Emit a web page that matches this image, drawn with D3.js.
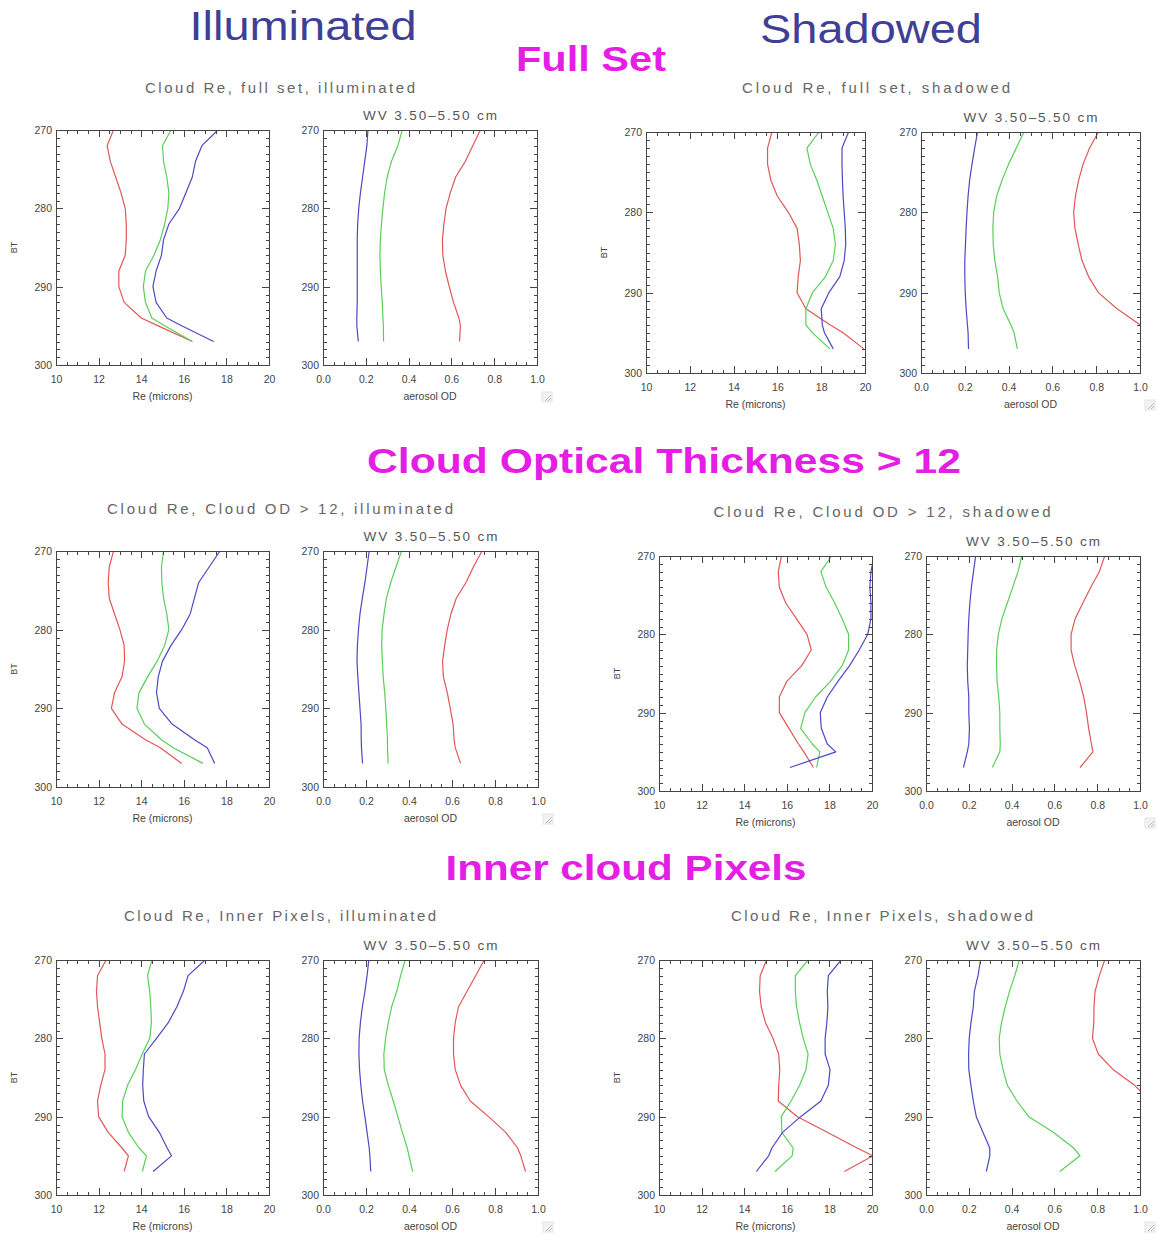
<!DOCTYPE html>
<html>
<head>
<meta charset="utf-8">
<script src="https://cdn.jsdelivr.net/npm/d3@7"></script>
<style>
  body { margin: 0; background: #fff; }
  svg text { font-family: "Liberation Sans", Arial, sans-serif; }
</style>
</head>
<body>
<svg id="fig" width="1158" height="1235"></svg>
<script>
// Brightness-temperature levels (K) shared by every profile
const btLevels = [270, 272, 274, 276, 278, 280, 282, 284, 286, 288, 290, 292, 294, 295, 297];

const reTicks  = [10, 12, 14, 16, 18, 20];
const aodTicks = [0.0, 0.2, 0.4, 0.6, 0.8, 1.0];
const btTicks  = [270, 280, 290, 300];

// ---- Full set ----
const reFullIllumRed    = [12.7, 12.4, 12.55, 12.8, 13.05, 13.25, 13.3, 13.3, 13.25, 12.95, 12.95, 13.2, 14.0, 14.8, 16.4];
const reFullIllumGreen  = [15.4, 15.0, 15.05, 15.2, 15.3, 15.25, 15.1, 14.9, 14.6, 14.2, 14.1, 14.2, 14.5, 15.1, 16.4];
const reFullIllumBlue   = [17.6, 16.85, 16.55, 16.4, 16.1, 15.8, 15.3, 15.05, 14.95, 14.7, 14.55, 14.7, 15.2, 15.9, 17.4];

const aodFullIllumRed   = [0.735, 0.70, 0.665, 0.62, 0.595, 0.575, 0.565, 0.558, 0.56, 0.572, 0.59, 0.61, 0.635, 0.642, 0.638];
const aodFullIllumGreen = [0.37, 0.35, 0.32, 0.30, 0.288, 0.28, 0.273, 0.268, 0.266, 0.268, 0.272, 0.277, 0.28, 0.282, 0.283];
const aodFullIllumBlue  = [0.21, 0.205, 0.195, 0.185, 0.175, 0.167, 0.162, 0.16, 0.16, 0.16, 0.16, 0.16, 0.158, 0.158, 0.165];

const reFullShadRed     = [15.75, 15.55, 15.55, 15.7, 16.0, 16.5, 16.9, 17.0, 17.05, 16.95, 16.9, 17.3, 18.4, 19.0, 19.95];
const reFullShadGreen   = [17.9, 17.35, 17.5, 17.8, 18.05, 18.3, 18.55, 18.65, 18.55, 18.2, 17.6, 17.3, 17.3, 17.6, 18.4];
const reFullShadBlue    = [19.25, 18.95, 18.95, 18.97, 19.0, 19.05, 19.1, 19.12, 19.05, 18.85, 18.35, 18.0, 18.05, 18.15, 18.55];

const aodFullShadRed    = [0.81, 0.77, 0.74, 0.72, 0.705, 0.697, 0.703, 0.718, 0.735, 0.765, 0.81, 0.895, 1.0, null, null];
const aodFullShadGreen  = [0.47, 0.435, 0.40, 0.37, 0.345, 0.332, 0.328, 0.33, 0.337, 0.35, 0.357, 0.375, 0.41, 0.425, 0.44];
const aodFullShadBlue   = [0.258, 0.245, 0.233, 0.222, 0.215, 0.21, 0.206, 0.203, 0.2, 0.2, 0.202, 0.206, 0.212, 0.215, 0.217];

// ---- Cloud optical thickness > 12 ----
const reOdIllumRed      = [12.7, 12.5, 12.45, 12.5, 12.75, 13.0, 13.2, 13.22, 13.1, 12.75, 12.6, 13.1, 14.2, 14.9, 15.9];
const reOdIllumGreen    = [15.05, 14.95, 14.97, 15.05, 15.2, 15.3, 15.1, 14.75, 14.3, 13.9, 13.8, 14.15, 14.95, 15.5, 16.9];
const reOdIllumBlue     = [17.7, 17.2, 16.7, 16.5, 16.3, 15.9, 15.4, 15.0, 14.8, 14.72, 14.85, 15.45, 16.5, 17.1, 17.45];

const aodOdIllumRed     = [0.74, 0.70, 0.665, 0.62, 0.595, 0.578, 0.566, 0.556, 0.56, 0.578, 0.592, 0.605, 0.61, 0.615, 0.64];
const aodOdIllumGreen   = [0.365, 0.34, 0.315, 0.295, 0.284, 0.275, 0.273, 0.276, 0.28, 0.287, 0.292, 0.296, 0.3, 0.3, 0.303];
const aodOdIllumBlue    = [0.215, 0.205, 0.195, 0.183, 0.172, 0.165, 0.16, 0.158, 0.162, 0.167, 0.172, 0.177, 0.178, 0.179, 0.184];

const reOdShadRed       = [15.75, 15.6, 15.65, 15.95, 16.45, 16.95, 17.15, 16.7, 16.0, 15.65, 15.65, 16.1, 16.55, 16.8, 17.25];
const reOdShadGreen     = [18.1, 17.6, 17.85, 18.25, 18.6, 18.9, 18.9, 18.6, 18.05, 17.35, 16.85, 16.65, 17.2, 17.55, 17.4];
const reOdShadBlue      = [20.1, 19.95, 19.9, 19.95, 19.95, 19.8, 19.4, 18.95, 18.4, 17.9, 17.57, 17.62, 17.9, 18.3, 16.15];

const aodOdShadRed      = [0.835, 0.81, 0.77, 0.733, 0.697, 0.678, 0.678, 0.695, 0.718, 0.737, 0.75, 0.76, 0.773, 0.78, 0.72];
const aodOdShadGreen    = [0.448, 0.43, 0.405, 0.38, 0.355, 0.338, 0.33, 0.33, 0.332, 0.34, 0.345, 0.345, 0.347, 0.345, 0.31];
const aodOdShadBlue     = [0.232, 0.222, 0.212, 0.205, 0.2, 0.197, 0.195, 0.193, 0.195, 0.2, 0.2, 0.203, 0.2, 0.193, 0.175];

// ---- Inner cloud pixels ----
const reInnerIllumRed   = [12.35, 11.95, 11.9, 11.95, 12.05, 12.15, 12.3, 12.3, 12.1, 11.95, 12.0, 12.45, 13.1, 13.4, 13.2];
const reInnerIllumGreen = [14.5, 14.3, 14.4, 14.45, 14.48, 14.4, 14.05, 13.73, 13.36, 13.13, 13.1, 13.4, 13.9, 14.25, 14.05];
const reInnerIllumBlue  = [17.0, 16.2, 15.98, 15.67, 15.27, 14.72, 14.15, 14.1, 14.07, 14.12, 14.35, 14.85, 15.22, 15.42, 14.56];

const aodInnerIllumRed   = [0.75, 0.71, 0.67, 0.63, 0.615, 0.607, 0.607, 0.615, 0.64, 0.685, 0.77, 0.85, 0.905, 0.92, 0.942];
const aodInnerIllumGreen = [0.382, 0.361, 0.343, 0.319, 0.304, 0.291, 0.283, 0.285, 0.304, 0.327, 0.348, 0.369, 0.392, 0.40, 0.417];
const aodInnerIllumBlue  = [0.213, 0.205, 0.195, 0.183, 0.174, 0.168, 0.167, 0.17, 0.176, 0.184, 0.195, 0.205, 0.215, 0.218, 0.222];

const reInnerShadRed    = [15.05, 14.75, 14.72, 14.8, 15.0, 15.35, 15.62, 15.67, 15.62, 15.6, 16.5, 17.9, 19.3, 20.05, 18.7];
const reInnerShadGreen  = [17.0, 16.4, 16.4, 16.46, 16.6, 16.77, 17.0, 16.9, 16.6, 16.2, 15.74, 15.77, 16.3, 16.25, 15.45];
const reInnerShadBlue   = [18.55, 17.95, 17.9, 17.93, 17.88, 17.8, 17.8, 18.03, 17.95, 17.6, 16.65, 15.8, 15.3, 15.15, 14.57];

const aodInnerShadRed   = [0.835, 0.81, 0.79, 0.785, 0.784, 0.778, 0.805, 0.875, 0.975, 1.05, null, null, null, null, null];
const aodInnerShadGreen = [0.436, 0.415, 0.39, 0.37, 0.353, 0.342, 0.345, 0.36, 0.38, 0.425, 0.48, 0.595, 0.69, 0.72, 0.625];
const aodInnerShadBlue  = [0.255, 0.243, 0.226, 0.221, 0.21, 0.202, 0.199, 0.2, 0.21, 0.221, 0.235, 0.266, 0.298, 0.298, 0.282];

// Headings
const columnTitles = ["Illuminated", "Shadowed"];
const sectionTitles = ["Full Set", "Cloud Optical Thickness > 12", "Inner cloud Pixels"];
const plotTitles = [
  "Cloud Re, full set, illuminated", "Cloud Re, full set, shadowed",
  "Cloud Re, Cloud OD > 12, illuminated", "Cloud Re, Cloud OD > 12, shadowed",
  "Cloud Re, Inner Pixels, illuminated", "Cloud Re, Inner Pixels, shadowed"
];
const wvTitle = "WV 3.50\u20135.50 cm";

// ---------------------------------------------------------------------------
const svg = d3.select("#fig");
const lineColors = ["#e35656", "#58d058", "#4a4ac4"];
const axisGrey = "#444";

// Panel boxes: [left, right, top, bottom]
const panels = [
  { kind: "re",  box: [56, 269, 130, 365],   series: [reFullIllumRed, reFullIllumGreen, reFullIllumBlue] },
  { kind: "aod", box: [323, 537, 130, 365],  series: [aodFullIllumRed, aodFullIllumGreen, aodFullIllumBlue] },
  { kind: "re",  box: [646, 865, 132, 373],  series: [reFullShadRed, reFullShadGreen, reFullShadBlue] },
  { kind: "aod", box: [921, 1140, 132, 373], series: [aodFullShadRed, aodFullShadGreen, aodFullShadBlue] },
  { kind: "re",  box: [56, 269, 551, 787],   series: [reOdIllumRed, reOdIllumGreen, reOdIllumBlue] },
  { kind: "aod", box: [323, 538, 551, 787],  series: [aodOdIllumRed, aodOdIllumGreen, aodOdIllumBlue] },
  { kind: "re",  box: [659, 872, 556, 791],  series: [reOdShadRed, reOdShadGreen, reOdShadBlue] },
  { kind: "aod", box: [926, 1140, 556, 791], series: [aodOdShadRed, aodOdShadGreen, aodOdShadBlue] },
  { kind: "re",  box: [56, 269, 960, 1195],  series: [reInnerIllumRed, reInnerIllumGreen, reInnerIllumBlue] },
  { kind: "aod", box: [323, 538, 960, 1195], series: [aodInnerIllumRed, aodInnerIllumGreen, aodInnerIllumBlue] },
  { kind: "re",  box: [659, 872, 960, 1195], series: [reInnerShadRed, reInnerShadGreen, reInnerShadBlue] },
  { kind: "aod", box: [926, 1140, 960, 1195], series: [aodInnerShadRed, aodInnerShadGreen, aodInnerShadBlue] }
];

const defs = svg.append("defs");

function styleAxis(sel) {
  sel.select(".domain").remove();
  sel.selectAll(".tick line").attr("stroke", axisGrey).attr("stroke-width", 1).attr("shape-rendering", "crispEdges");
  sel.selectAll(".tick text")
    .attr("fill", "#444").attr("font-size", 10.5)
    .attr("font-family", "'Liberation Sans', Arial, sans-serif");
}

function addAxis(g, gen, transform, values, size, fmt, pad) {
  const a = gen.tickValues(values).tickSizeInner(size).tickSizeOuter(0);
  if (fmt) a.tickFormat(fmt).tickPadding(pad); else a.tickFormat("");
  const s = g.append("g").attr("transform", transform).call(a);
  styleAxis(s);
  return s;
}

panels.forEach((p, idx) => {
  const [x0, x1, y0, y1] = p.box;
  const isRe = p.kind === "re";
  const x = d3.scaleLinear().domain(isRe ? [10, 20] : [0, 1]).range([x0, x1]);
  const y = d3.scaleLinear().domain([270, 300]).range([y0, y1]);
  const g = svg.append("g");

  const cid = "plotclip" + idx;
  defs.append("clipPath").attr("id", cid)
    .append("rect").attr("x", x0).attr("y", y0).attr("width", x1 - x0).attr("height", y1 - y0);

  const line = d3.line()
    .defined(d => d[1] != null)
    .x(d => x(d[1]))
    .y(d => y(d[0]));

  p.series.forEach((vals, i) => {
    g.append("path")
      .datum(btLevels.map((b, k) => [b, vals[k]]))
      .attr("clip-path", `url(#${cid})`)
      .attr("fill", "none")
      .attr("stroke", lineColors[i])
      .attr("stroke-width", 1.2)
      .attr("stroke-linejoin", "round")
      .attr("d", line);
  });

  const xMajor = isRe ? reTicks : aodTicks;
  const xMinor = isRe ? d3.range(10, 20.001, 0.5) : d3.range(0, 1.0001, 0.05);
  const yMinor = d3.range(270, 300.001, 1);
  const xFmt = isRe ? d3.format("d") : d3.format(".1f");

  // major ticks, labelled on bottom and left
  addAxis(g, d3.axisBottom(x), `translate(0,${y1})`, xMajor, -7, xFmt, 11);
  addAxis(g, d3.axisTop(x), `translate(0,${y0})`, xMajor, -7, null);
  addAxis(g, d3.axisLeft(y), `translate(${x0},0)`, btTicks, -7, d3.format("d"), 4);
  addAxis(g, d3.axisRight(y), `translate(${x1},0)`, btTicks, -7, null);
  // minor ticks on all four sides
  addAxis(g, d3.axisBottom(x), `translate(0,${y1})`, xMinor, -3.5, null);
  addAxis(g, d3.axisTop(x), `translate(0,${y0})`, xMinor, -3.5, null);
  addAxis(g, d3.axisLeft(y), `translate(${x0},0)`, yMinor, -3.5, null);
  addAxis(g, d3.axisRight(y), `translate(${x1},0)`, yMinor, -3.5, null);

  // frame
  g.append("rect")
    .attr("x", x0).attr("y", y0).attr("width", x1 - x0).attr("height", y1 - y0)
    .attr("fill", "none").attr("stroke", axisGrey).attr("stroke-width", 1)
    .attr("shape-rendering", "crispEdges");

  // axis titles
  g.append("text")
    .attr("x", (x0 + x1) / 2).attr("y", y1 + 31)
    .attr("text-anchor", "middle").attr("dominant-baseline", "central")
    .attr("font-size", 10.5).attr("fill", "#444")
    .text(isRe ? "Re (microns)" : "aerosol OD");

  if (isRe) {
    g.append("text")
      .attr("transform", `translate(${x0 - 42},${(y0 + y1) / 2}) rotate(-90)`)
      .attr("text-anchor", "middle").attr("dominant-baseline", "central")
      .attr("font-size", 9).attr("fill", "#444")
      .text("BT");
  } else {
    g.append("text")
      .attr("x", (x0 + x1) / 2).attr("y", y0 - 15)
      .attr("text-anchor", "middle").attr("dominant-baseline", "central")
      .attr("font-size", 13.5).attr("fill", "#555")
      .attr("textLength", 134).attr("lengthAdjust", "spacing")
      .text(wvTitle);
    // small window-resize grip below the right corner
    const gx = x1 + 5, gy = y1 + 27;
    const grip = g.append("g").attr("stroke", "#bdbdbd").attr("stroke-width", 1);
    grip.append("rect").attr("x", gx).attr("y", gy).attr("width", 10).attr("height", 10)
      .attr("fill", "#f2f2f2").attr("stroke", "#e4e4e4");
    grip.append("line").attr("x1", gx + 9).attr("y1", gy + 3).attr("x2", gx + 3).attr("y2", gy + 9);
    grip.append("line").attr("x1", gx + 9).attr("y1", gy + 6).attr("x2", gx + 6).attr("y2", gy + 9);
  }
});

// plot titles above each pair of panels: [centre x, centre y, width]
const plotTitlePos = [
  [280, 87, 270], [876, 87, 268],
  [280, 508, 346], [882, 511, 337],
  [280, 915, 312], [882, 915, 302]
];
plotTitles.forEach((t, i) => {
  const [cx, cy, w] = plotTitlePos[i];
  svg.append("text")
    .attr("x", cx).attr("y", cy)
    .attr("text-anchor", "middle").attr("dominant-baseline", "central")
    .attr("font-size", 15).attr("fill", "#666")
    .attr("textLength", w).attr("lengthAdjust", "spacing")
    .text(t);
});

// column headings
const columnPos = [[303, 26, 227], [871, 29, 222]];
columnTitles.forEach((t, i) => {
  const [cx, cy, w] = columnPos[i];
  svg.append("text")
    .attr("x", cx).attr("y", cy)
    .attr("text-anchor", "middle").attr("dominant-baseline", "central")
    .attr("font-size", 40).attr("fill", "#3f3f95")
    .attr("textLength", w).attr("lengthAdjust", "spacingAndGlyphs")
    .text(t);
});

// section headings
const sectionPos = [[591, 58, 150], [664, 460, 594], [626, 867, 361]];
sectionTitles.forEach((t, i) => {
  const [cx, cy, w] = sectionPos[i];
  svg.append("text")
    .attr("x", cx).attr("y", cy)
    .attr("text-anchor", "middle").attr("dominant-baseline", "central")
    .attr("font-size", 35).attr("font-weight", "bold").attr("fill", "#e41ee4")
    .attr("textLength", w).attr("lengthAdjust", "spacingAndGlyphs")
    .text(t);
});
</script>
</body>
</html>
